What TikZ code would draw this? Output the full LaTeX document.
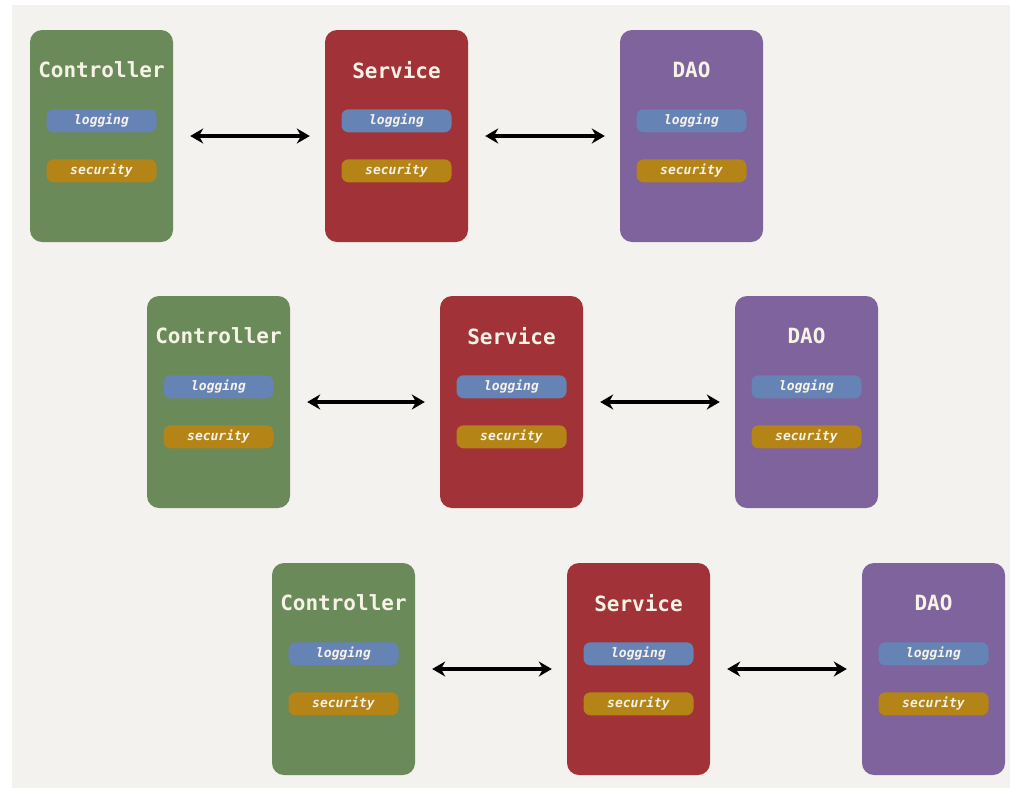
\documentclass[tikz,border=0pt]{standalone}
\usepackage{fontspec}
\setmonofont{DejaVu Sans Mono}
\usetikzlibrary{arrows.meta,positioning}

\definecolor{paper}{HTML}{F4F2EE}
\definecolor{ctrlgreen}{HTML}{6A8A5A}
\definecolor{svcred}{HTML}{A13237}
\definecolor{daopurple}{HTML}{7E639C}
\definecolor{logblue}{HTML}{6683B6}
\definecolor{secgold}{HTML}{B48416}
\definecolor{labelwhite}{HTML}{F6F2E6}

\tikzset{
  layer/.style={rounded corners=12pt, minimum width=143pt, minimum height=212pt, inner sep=0pt},
  layername/.style={text=labelwhite, font=\ttfamily\bfseries\fontsize{21}{25}\selectfont},
  aspect/.style={rounded corners=7pt, minimum width=110pt, minimum height=23pt, inner sep=0pt,
    text=labelwhite, font=\ttfamily\bfseries\itshape\fontsize{13}{15}\selectfont},
  logging/.style={aspect, fill=logblue},
  security/.style={aspect, fill=secgold},
  call/.style={{Stealth[length=13pt,width=15pt]}-{Stealth[length=13pt,width=15pt]}, line width=3.6pt}
}

\begin{document}
\begin{tikzpicture}[x=1pt,y=-1pt]
    \fill[white] (0,0) rectangle (1010,788);
    \fill[paper] (12,5) rectangle (1010,788);

    % one row per shift: controller, service, dao
    \foreach \r/\x/\y/\sx/\dx in {1/30/30/366.5/661.5, 2/147/296/364.5/659.5, 3/272/563/366.5/661.5} {
    \begin{scope}[shift={(\x,\y)}]
        \node[layer, fill=ctrlgreen] (c\r) at (71.5,106) {};
        \node[layer, fill=svcred] (s\r) at (\sx,106) {};
        \node[layer, fill=daopurple] (d\r) at (\dx,106) {};

        \foreach \b/\t in {c/Controller, s/Service, d/DAO} {
            \node[layername] (\b\r-name) at ([yshift=-40pt]\b\r.north) {\t};
            \node[logging] (\b\r-log) at ([yshift=-91pt]\b\r.north) {logging};
            \node[security] (\b\r-sec) at ([yshift=-141pt]\b\r.north) {security};
        }

        \draw[call] ([xshift=17pt]c\r.east) -- ([xshift=-15pt]s\r.west);
        \draw[call] ([xshift=17pt]s\r.east) -- ([xshift=-15pt]d\r.west);
    \end{scope}
    }
\end{tikzpicture}
\end{document}
